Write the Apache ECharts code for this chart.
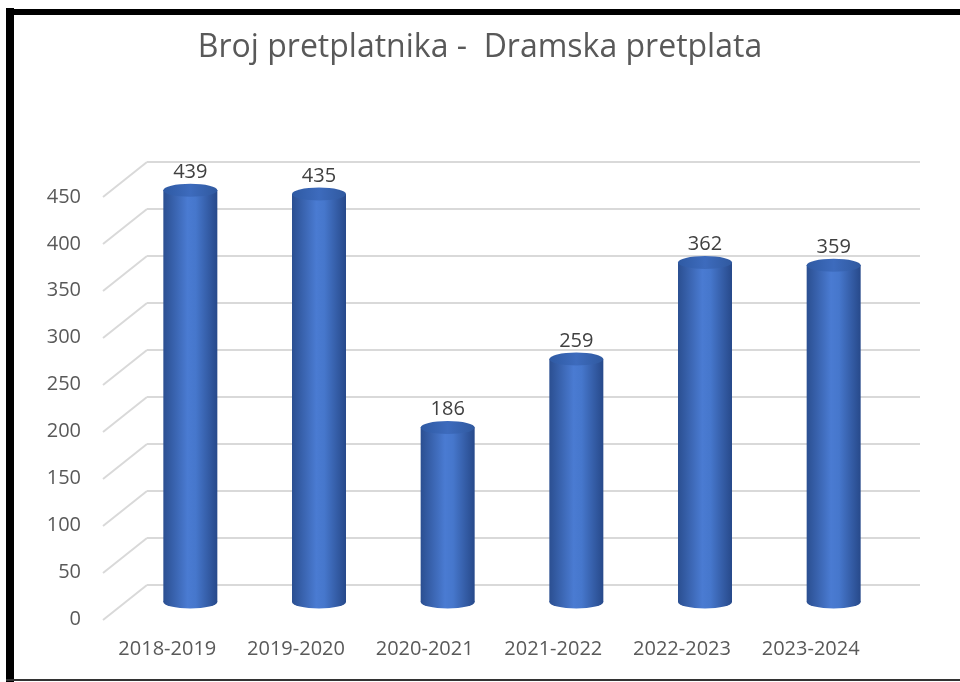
<!DOCTYPE html>
<html>
<head>
<meta charset="utf-8">
<script src="https://cdn.jsdelivr.net/npm/echarts@6/dist/echarts.min.js"></script>
<style>
  html, body { margin: 0; padding: 0; background: #fff; }
  #chart { width: 960px; height: 682px; }
</style>
</head>
<body>
<div id="chart"></div>
<script>
var seasons = ['2018-2019', '2019-2020', '2020-2021', '2021-2022', '2022-2023', '2023-2024'];
var subscribers = [439, 435, 186, 259, 362, 359];
var yTicks = [0, 50, 100, 150, 200, 250, 300, 350, 400, 450];

var FONT = '"Open Sans", "Liberation Sans", sans-serif';
var GREY = '#595959';

var bodyColor = new echarts.graphic.LinearGradient(0, 0, 1, 0, [
    { offset: 0, color: '#2b4f91' },
    { offset: 0.45, color: '#4a7bd2' },
    { offset: 0.6, color: '#4677cc' },
    { offset: 1, color: '#27498a' }
]);
var capColor = new echarts.graphic.LinearGradient(0, 0, 1, 0, [
    { offset: 0, color: '#2f5aa3' },
    { offset: 0.5, color: '#3d6bbd' },
    { offset: 1, color: '#30599f' }
]);

var chart = echarts.init(document.getElementById('chart'));

chart.setOption({
    animation: false,
    title: {
        text: 'Broj pretplatnika -  Dramska pretplata',
        left: 'center',
        top: 27,
        textStyle: { fontFamily: FONT, fontSize: 32, fontWeight: 'normal', color: GREY }
    },
    graphic: [
        { type: 'line', shape: { x1: 10, y1: 8, x2: 10, y2: 682 }, style: { stroke: '#000', lineWidth: 8 } },
        { type: 'line', shape: { x1: 6, y1: 12, x2: 960, y2: 12 }, style: { stroke: '#000', lineWidth: 6 } },
        { type: 'line', shape: { x1: 6, y1: 680, x2: 960, y2: 680 }, style: { stroke: '#333', lineWidth: 2 } }
    ],
    grid: [
        // back wall
        { left: 147, right: 40, top: 162, bottom: 97 },
        // front plane (labels)
        { left: 103, right: 85, top: 197, bottom: 63 },
        // bars
        { left: 126, right: 62, top: 180, bottom: 80 }
    ],
    xAxis: [
        { gridIndex: 0, type: 'category', data: seasons, show: false },
        {
            gridIndex: 1, type: 'category', data: seasons,
            axisLine: { show: false }, axisTick: { show: false },
            axisLabel: { interval: 0, margin: 20, fontFamily: FONT, fontSize: 20, color: GREY }
        },
        { gridIndex: 2, type: 'category', data: seasons, show: false }
    ],
    yAxis: [
        {
            gridIndex: 0, type: 'value', min: 0, max: 450, interval: 50,
            axisLabel: { show: false }, axisLine: { show: false }, axisTick: { show: false },
            splitLine: { lineStyle: { color: '#d9d9d9', width: 2 } }
        },
        {
            gridIndex: 1, type: 'value', min: 0, max: 450, interval: 50,
            axisLine: { show: false }, axisTick: { show: false }, splitLine: { show: false },
            axisLabel: { margin: 22, fontFamily: FONT, fontSize: 20, color: GREY }
        },
        { gridIndex: 2, type: 'value', min: 0, max: 450, show: false, splitLine: { show: false } }
    ],
    series: [
        {
            // floor-to-wall diagonals on the left side
            type: 'custom',
            xAxisIndex: 0, yAxisIndex: 0,
            data: yTicks.map(function (t) { return [0, t]; }),
            silent: true,
            renderItem: function (params, api) {
                var p = api.coord([0, api.value(1)]);
                var x = params.coordSys.x;
                return {
                    type: 'line',
                    shape: { x1: x - 44, y1: p[1] + 35, x2: x, y2: p[1] },
                    style: { stroke: '#d9d9d9', lineWidth: 2 }
                };
            }
        },
        {
            type: 'pictorialBar',
            xAxisIndex: 2, yAxisIndex: 2,
            data: subscribers,
            symbol: 'circle',
            symbolSize: [54, 13],
            symbolOffset: [0, '50%'],
            itemStyle: { color: bodyColor },
            z: 1
        },
        {
            type: 'bar',
            xAxisIndex: 2, yAxisIndex: 2,
            data: subscribers,
            barWidth: 54,
            itemStyle: { color: bodyColor },
            label: {
                show: true, position: 'top', distance: 8,
                fontFamily: FONT, fontSize: 20, color: '#404040'
            },
            z: 2
        },
        {
            type: 'pictorialBar',
            xAxisIndex: 2, yAxisIndex: 2,
            data: subscribers,
            symbol: 'circle',
            symbolSize: [54, 13],
            symbolPosition: 'end',
            symbolOffset: [0, '-50%'],
            itemStyle: { color: capColor },
            z: 3
        }
    ]
});
</script>
</body>
</html>
